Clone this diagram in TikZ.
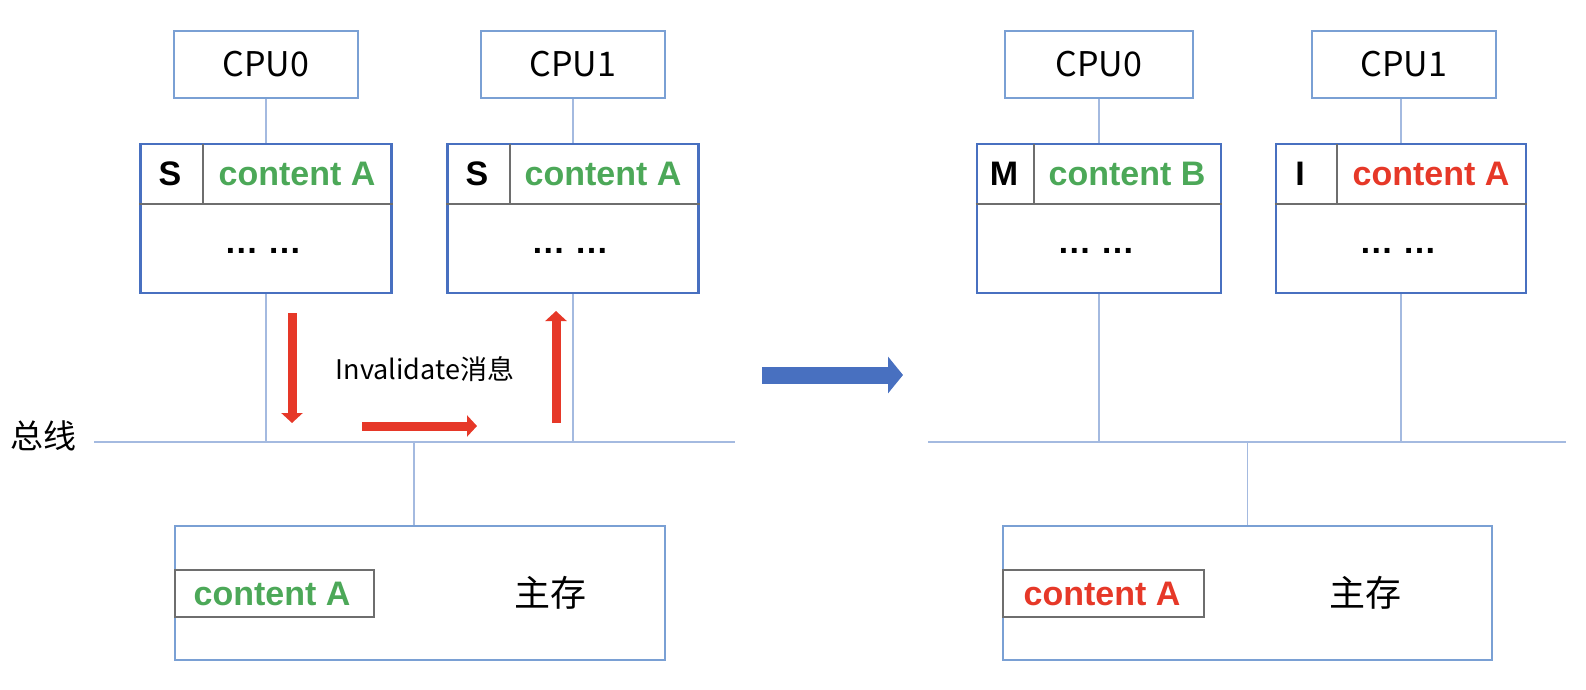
\documentclass[tikz,border=0pt]{standalone}
\usepackage{fontspec}
\setmainfont{Liberation Sans}
\newfontfamily\cjk{Noto Sans CJK SC}
\usetikzlibrary{arrows.meta}
\definecolor{lblue}{RGB}{122,160,212}
\definecolor{dblue}{RGB}{72,112,192}
\definecolor{busblue}{RGB}{164,186,224}
\definecolor{cgreen}{RGB}{76,168,88}
\definecolor{cred}{RGB}{230,56,40}
\definecolor{cgray}{RGB}{110,110,110}
\tikzset{
  cpubox/.style={draw=lblue,line width=2.5pt,minimum width=184pt,minimum height=67pt,inner sep=0pt,font=\cjk\fontsize{34}{34}\selectfont},
  cachebox/.style={draw=dblue,line width=2.8pt,minimum height=149pt,inner sep=0pt},
  membox/.style={draw=lblue,line width=2.5pt,minimum height=134pt,inner sep=0pt},
  innerbox/.style={draw=cgray,line width=1.6pt,minimum height=47pt,inner sep=0pt},
  divider/.style={draw=cgray,line width=1.6pt},
  busline/.style={draw=busblue,line width=1.6pt},
  bigtxt/.style={font=\bfseries\fontsize{34}{34}\selectfont,inner sep=0pt},
  cjktxt/.style={font=\cjk\fontsize{36}{36}\selectfont,inner sep=0pt},
  redarrow/.style={draw=cred,line width=9pt,-{Triangle[length=10pt,width=21pt]}},
  bigarrow/.style={draw=dblue,line width=17pt,-{Triangle[length=15pt,width=36pt]}},
}
\begin{document}
\begin{tikzpicture}[x=1pt,y=-1pt]
\useasboundingbox (0,0) rectangle (1586,690);
% ---------------- left ----------------
\node[cpubox] (cpu0L) at (266,64.5) {CPU0};
\node[cpubox] (cpu1L) at (573,64.5) {CPU1};
\node[cachebox,minimum width=251pt] (c0L) at (266,218.5) {};
\node[cachebox,minimum width=251pt] (c1L) at (573,218.5) {};
\draw[divider] (c0L.west |- 0,204) -- (c0L.east |- 0,204);
\draw[divider] (203,144) -- (203,204);
\draw[divider] (c1L.west |- 0,204) -- (c1L.east |- 0,204);
\draw[divider] (510,144) -- (510,204);
\node[bigtxt] (s0L) at (170,174) {S};
\node[bigtxt,text=cgreen] (a0L) at (297,174) {content A};
\node[bigtxt] (d0L) at (263,251) {… …};
\node[bigtxt] (s1L) at (477,174) {S};
\node[bigtxt,text=cgreen] (a1L) at (603,174) {content A};
\node[bigtxt] (d1L) at (570,251) {… …};
\draw[busline] (cpu0L.south) -- (c0L.north);
\draw[busline] (cpu1L.south) -- (c1L.north);
\coordinate (busL1) at (94,442);
\coordinate (busL2) at (735,442);
\draw[busline] (busL1) -- (busL2);
\draw[busline] (c0L.south) -- (c0L.south |- busL1);
\draw[busline] (c1L.south) -- (c1L.south |- busL1);
\node[cjktxt,font=\cjk\fontsize{33}{33}\selectfont] (busname) at (43,436) {总线};
\node[membox,minimum width=490pt] (memL) at (420,593) {};
\coordinate (mtapL) at (414,442);
\draw[busline] (mtapL) -- (mtapL |- memL.north);
\node[innerbox,minimum width=199pt] (inL) at (274.5,593.5) {};
\node[bigtxt,text=cgreen] (inAL) at (272,594) {content A};
\node[cjktxt] (mainL) at (550,593) {主存};
% red arrows
\coordinate (r1a) at (292,313);
\coordinate (r1b) at (292,423);
\coordinate (r2a) at (362,426);
\coordinate (r2b) at (477,426);
\coordinate (r3a) at (556,423);
\coordinate (r3b) at (556,311);
\draw[redarrow] (r1a) -- (r1b);
\draw[redarrow] (r2a) -- (r2b);
\draw[redarrow] (r3a) -- (r3b);
\node[font=\cjk\fontsize{27}{27}\selectfont,inner sep=0pt] (inv) at (425,369) {Invalidate消息};
% big arrow
\coordinate (ba) at (762,375);
\coordinate (bb) at (903,375);
\draw[bigarrow] (ba) -- (bb);
% ---------------- right ----------------
\node[cpubox,minimum width=188pt] (cpu0R) at (1099,64.5) {CPU0};
\node[cpubox] (cpu1R) at (1404,64.5) {CPU1};
\node[cachebox,minimum width=244pt] (c0R) at (1099,218.5) {};
\node[cachebox,minimum width=250pt] (c1R) at (1401,218.5) {};
\draw[divider] (c0R.west |- 0,204) -- (c0R.east |- 0,204);
\draw[divider] (1034,144) -- (1034,204);
\draw[divider] (c1R.west |- 0,204) -- (c1R.east |- 0,204);
\draw[divider] (1337,144) -- (1337,204);
\node[bigtxt] (mR) at (1004,174) {M};
\node[bigtxt,text=cgreen] (bR) at (1127,174) {content B};
\node[bigtxt] (d0R) at (1096,251) {… …};
\node[bigtxt] (iR) at (1300,174) {I};
\node[bigtxt,text=cred] (aR) at (1431,174) {content A};
\node[bigtxt] (d1R) at (1398,251) {… …};
\draw[busline] (cpu0R.south) -- (c0R.north);
\draw[busline] (cpu1R.south -| c1R.north) -- (c1R.north);
\coordinate (busR1) at (928,442);
\coordinate (busR2) at (1566,442);
\draw[busline] (busR1) -- (busR2);
\draw[busline] (c0R.south) -- (c0R.south |- busR1);
\draw[busline] (c1R.south) -- (c1R.south |- busR1);
\node[membox,minimum width=489pt] (memR) at (1247.5,593) {};
\draw[busline] (memR.north |- busR1) -- (memR.north);
\node[innerbox,minimum width=201pt] (inR) at (1103.5,593.5) {};
\node[bigtxt,text=cred] (inAR) at (1102,594) {content A};
\node[cjktxt] (mainR) at (1365,593) {主存};
\end{tikzpicture}
\end{document}
